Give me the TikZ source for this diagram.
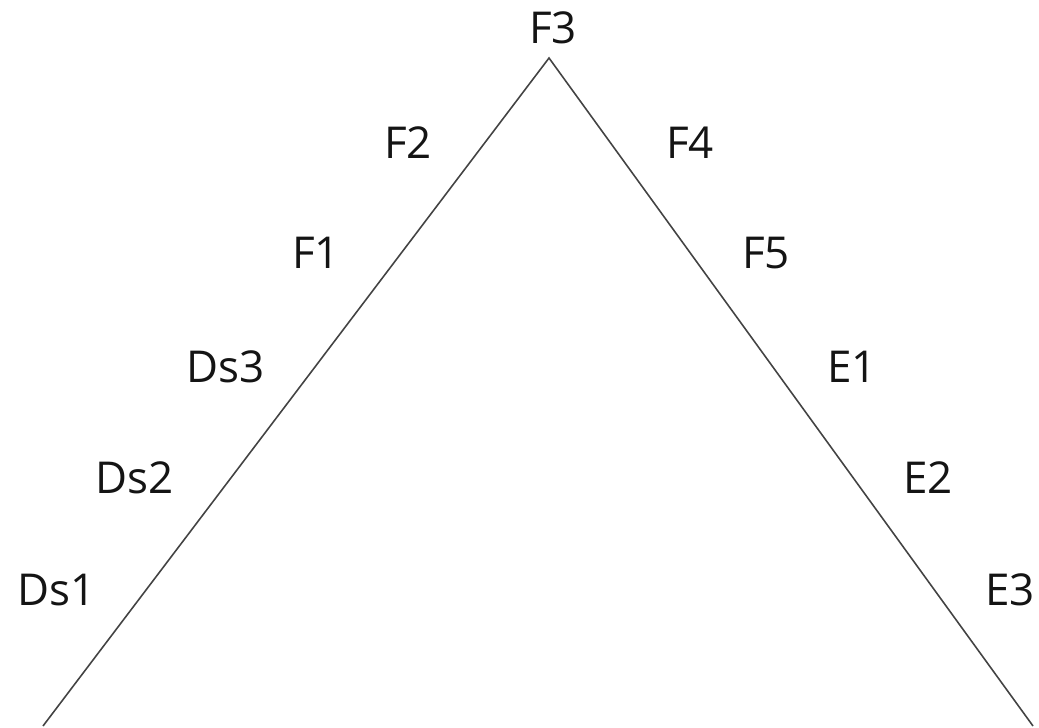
\documentclass[tikz,border=0pt]{standalone}
\usepackage{fontspec}
\setmainfont{Open Sans}
\usepackage{tikz}
\usetikzlibrary{positioning}
\definecolor{ink}{RGB}{20,20,20}
\tikzset{
  lbl/.style={font=\fontsize{12.5}{14}\selectfont,text=ink,inner sep=0pt},
  side/.style={draw=ink!80,line width=0.45pt},
}

\begin{document}
\begin{tikzpicture}[x=0.1mm,y=-0.1mm]
  \useasboundingbox (0,0) rectangle (1039,727);
  \coordinate (top) at (549,58);
  \coordinate (lend) at (43,726);
  \coordinate (rend) at (1033,726);
  \draw[side] (lend) -- (top) -- (rend);
  % labels along the left side
  \node[lbl] (f3) at (553,28) {F3};
  \node[lbl] (f2) at (408,143) {F2};
  \node[lbl] (f1) at (316,253) {F1};
  \node[lbl] (ds3) at (226,367) {Ds3};
  \node[lbl] (ds2) at (135,478) {Ds2};
  \node[lbl] (ds1) at (57,590) {Ds1};
  % labels along the right side
  \node[lbl] (f4) at (690,143) {F4};
  \node[lbl] (f5) at (766,253) {F5};
  \node[lbl] (e1) at (852,367) {E1};
  \node[lbl] (e2) at (928,478) {E2};
  \node[lbl] (e3) at (1010,590) {E3};
\end{tikzpicture}
\end{document}
